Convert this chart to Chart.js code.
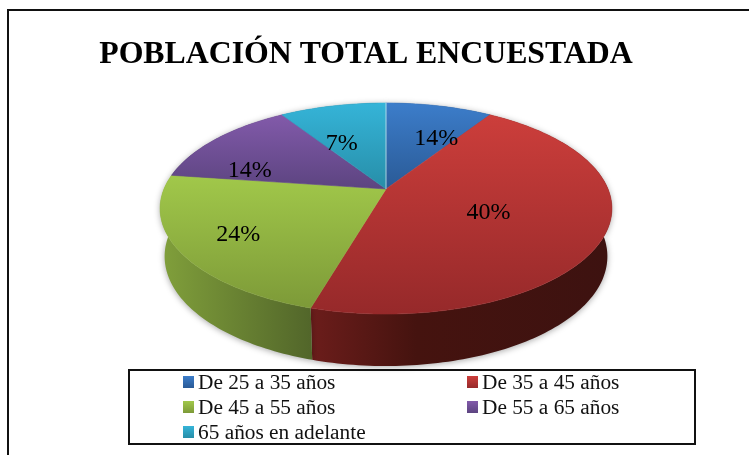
<!DOCTYPE html>
<html lang="es">
<head>
<meta charset="utf-8">
<title>Población total encuestada</title>
<script src="https://cdn.jsdelivr.net/npm/chart.js@4"></script>
<style>
    html, body { margin: 0; padding: 0; background: #fff; }
    body { width: 749px; height: 455px; position: relative; overflow: hidden; }
    #frame { position: absolute; left: 7px; top: 9px; width: 760px; height: 500px; border: 2px solid #111; box-sizing: border-box; }
    #pieChart { position: absolute; left: 0; top: 0; }
    #legend {
        position: absolute; left: 128px; top: 369px; width: 568px; height: 76px;
        border: 2px solid #111; box-sizing: border-box;
        font: 21.33px "Liberation Serif", serif; color: #111;
    }
    #legend div { position: absolute; white-space: nowrap; line-height: 25px; }
    #legend i { position: absolute; left: -15px; top: 6px; width: 11px; height: 12px; }
</style>
</head>
<body>
<div id="frame"></div>
<canvas id="pieChart" width="749" height="455"></canvas>
<div id="legend"></div>
<script>
const chartTitle = "POBLACIÓN TOTAL ENCUESTADA";
const categories = ["De 25 a 35 años", "De 35 a 45 años", "De 45 a 55 años", "De 55 a 65 años", "65 años en adelante"];
// slice sizes as drawn in the picture (they don't follow the printed labels)
const sliceShares = [9.1, 45.4, 22.7, 13.7, 9.1];
const printedLabels = ["14%", "40%", "24%", "14%", "7%"];

const faceTop = ["#3c7dca", "#cc3e3b", "#a1c84a", "#825aaa", "#35b4d8"];
const faceBottom = ["#2a5a96", "#96292a", "#7d9a38", "#5c4480", "#278ea8"];
const wallLeft = ["#22426e", "#6c1d1b", "#81a03b", "#46345f", "#1d6a7e"];
const wallRight = ["#1a3558", "#3d1210", "#52662a", "#3a2b50", "#18586a"];

// perspective of the pie top: apex sits above the middle of the ellipse
const apexX = 386, apexY = 189;
const spreadX = 222, spreadY = 101.9, tilt = -0.185;
const wallNarrow = 0.98;

// where each printed label sits inside its slice
const labelRadius = [0.62, 0.49, 0.735, 0.67, 0.55];
const labelTurn = [7.4, 0.7, 0, -14.7, -7];

function rim(angle, radius, narrow) {
    const u = Math.cos(angle) * radius;
    const v = Math.sin(angle) * radius;
    const w = 1 + tilt * v;
    return { x: apexX + (spreadX * narrow * u) / w, y: apexY + (spreadY * v) / w };
}

// the wall gets taller towards the viewer
function lowerRim(angle) {
    const p = rim(angle, 1, wallNarrow);
    return { x: p.x, y: p.y + 47 + 5 * Math.sin(angle) };
}

function sampleArc(arc) {
    const pts = [];
    const steps = Math.ceil((arc.endAngle - arc.startAngle) / 0.02);
    for (let s = 0; s <= steps; s++) {
        pts.push(arc.startAngle + ((arc.endAngle - arc.startAngle) * s) / steps);
    }
    return pts;
}

function tracePath(ctx, pts) {
    ctx.beginPath();
    pts.forEach((p, i) => (i ? ctx.lineTo(p.x, p.y) : ctx.moveTo(p.x, p.y)));
    ctx.closePath();
}

const perspectivePie = {
    id: "perspectivePie",
    beforeDatasetDraw(chart) {
        const ctx = chart.ctx;
        const arcs = chart.getDatasetMeta(0).data;
        ctx.save();

        // side wall first, the top face covers whatever is behind it
        arcs.forEach((arc, i) => {
            const angles = sampleArc(arc);
            const top = angles.map((a) => rim(a, 1, 1));
            const bottom = angles.map(lowerRim).reverse();
            const xs = top.map((p) => p.x);
            const grad = ctx.createLinearGradient(Math.min(...xs), 0, Math.max(...xs), 0);
            grad.addColorStop(0, wallLeft[i]);
            grad.addColorStop(i === 1 ? 0.35 : 1, i === 1 ? "#45130f" : wallRight[i]);
            grad.addColorStop(1, wallRight[i]);
            ctx.shadowColor = "rgba(0,0,0,0.35)";
            ctx.shadowBlur = 6;
            ctx.shadowOffsetY = 1;
            ctx.fillStyle = grad;
            tracePath(ctx, top.concat(bottom));
            ctx.fill();
        });
        ctx.shadowColor = "transparent";

        arcs.forEach((arc, i) => {
            const pts = [{ x: apexX, y: apexY }].concat(sampleArc(arc).map((a) => rim(a, 1, 1)));
            const ys = pts.map((p) => p.y);
            const grad = ctx.createLinearGradient(0, Math.min(...ys), 0, Math.max(...ys));
            grad.addColorStop(0, faceTop[i]);
            grad.addColorStop(1, faceBottom[i]);
            ctx.fillStyle = grad;
            ctx.strokeStyle = grad;
            ctx.lineWidth = 0.6;
            tracePath(ctx, pts);
            ctx.fill();
            ctx.stroke();
        });

        // pale seam where the last slice meets the first one
        const seam = rim(arcs[0].startAngle, 1, 1);
        ctx.strokeStyle = "rgba(225,235,245,0.7)";
        ctx.lineWidth = 1;
        ctx.beginPath();
        ctx.moveTo(apexX, apexY);
        ctx.lineTo(seam.x, seam.y);
        ctx.stroke();

        ctx.fillStyle = "#000";
        ctx.font = '24px "Liberation Serif", serif';
        ctx.textAlign = "center";
        ctx.textBaseline = "middle";
        arcs.forEach((arc, i) => {
            const mid = (arc.startAngle + arc.endAngle) / 2 + (labelTurn[i] * Math.PI) / 180;
            const spot = rim(mid, labelRadius[i], 1);
            ctx.fillText(printedLabels[i], spot.x, spot.y + 2);
        });
        ctx.restore();
        return false;
    },
};

new Chart(document.getElementById("pieChart").getContext("2d"), {
    type: "pie",
    data: {
        labels: categories,
        datasets: [{ data: sliceShares, backgroundColor: faceTop, borderWidth: 0 }],
    },
    options: {
        responsive: false,
        animation: false,
        layout: { padding: { right: 17 } },
        plugins: {
            legend: { display: false },
            tooltip: { enabled: false },
            title: {
                display: true,
                text: chartTitle,
                color: "#000",
                font: { family: '"Liberation Serif", serif', size: 31.8, weight: "bold" },
                padding: { top: 36, bottom: 10 },
            },
        },
    },
    plugins: [perspectivePie],
});

// html legend, two columns like the picture
const legendBox = document.getElementById("legend");
categories.forEach((name, i) => {
    const item = document.createElement("div");
    item.style.left = (i % 2 ? 352 : 68) + "px";
    item.style.top = Math.floor(i / 2) * 25 - 1 + "px";
    item.textContent = name;
    const swatch = document.createElement("i");
    swatch.style.background = "linear-gradient(" + faceTop[i] + "," + faceBottom[i] + ")";
    item.prepend(swatch);
    legendBox.appendChild(item);
});
</script>
</body>
</html>
